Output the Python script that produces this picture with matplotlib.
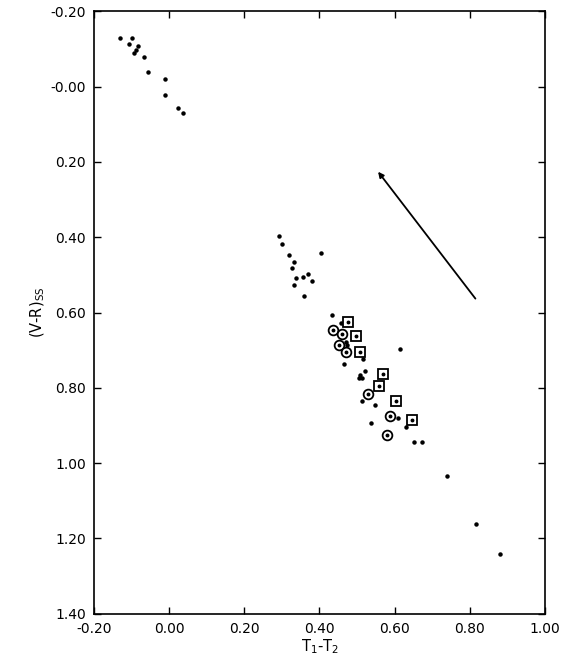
import matplotlib
matplotlib.use("Agg")
import matplotlib.pyplot as plt

# small dots
dot_x = [-0.132, -0.100, -0.108, -0.084, -0.088, -0.094, -0.066, -0.057, -0.010, -0.010, 0.023, 0.036,
         0.291, 0.300, 0.320, 0.405, 0.333, 0.326, 0.338, 0.357, 0.369, 0.380, 0.332, 0.358,
         0.432, 0.458, 0.613, 0.470, 0.472, 0.517, 0.464, 0.520, 0.504, 0.514, 0.509,
         0.512, 0.549, 0.610, 0.537, 0.629, 0.651, 0.673, 0.739, 0.817, 0.880]
dot_y = [-0.129, -0.129, -0.113, -0.109, -0.096, -0.089, -0.079, -0.039, -0.019, 0.021, 0.056, 0.070,
         0.398, 0.417, 0.447, 0.442, 0.466, 0.482, 0.508, 0.506, 0.497, 0.517, 0.527, 0.557,
         0.607, 0.627, 0.696, 0.678, 0.685, 0.724, 0.736, 0.755, 0.773, 0.773, 0.765,
         0.835, 0.845, 0.879, 0.892, 0.905, 0.945, 0.945, 1.033, 1.161, 1.242]

# circled points
circ_x = [0.436, 0.461, 0.452, 0.470, 0.529, 0.589, 0.581]
circ_y = [0.647, 0.658, 0.687, 0.706, 0.817, 0.874, 0.924]

# boxed points
sq_x = [0.476, 0.498, 0.507, 0.569, 0.558, 0.603, 0.646]
sq_y = [0.625, 0.662, 0.705, 0.763, 0.795, 0.836, 0.885]

# reddening arrow (tail -> head)
arrow_tail = (0.815, 0.563)
arrow_head = (0.556, 0.226)

xticks = [-0.2, 0.0, 0.2, 0.4, 0.6, 0.8, 1.0]
xlabels = ["-0.20", "0.00", "0.20", "0.40", "0.60", "0.80", "1.00"]
yticks = [-0.2, 0.0, 0.2, 0.4, 0.6, 0.8, 1.0, 1.2, 1.4]
ylabels = ["-0.20", "-0.00", "0.20", "0.40", "0.60", "0.80", "1.00", "1.20", "1.40"]

fig = plt.figure(figsize=(5.7, 6.65), dpi=100)
ax = fig.add_axes([0.165, 0.077, 0.791, 0.906])

ax.plot(dot_x, dot_y, "o", color="black", markersize=2.2, linestyle="none")
ax.plot(circ_x, circ_y, "o", markerfacecolor="white", markeredgecolor="black",
        markeredgewidth=1.3, markersize=7, linestyle="none")
ax.plot(circ_x, circ_y, "o", color="black", markersize=1.8, linestyle="none")
ax.plot(sq_x, sq_y, "s", markerfacecolor="white", markeredgecolor="black",
        markeredgewidth=1.3, markersize=7, linestyle="none")
ax.plot(sq_x, sq_y, "o", color="black", markersize=1.8, linestyle="none")

ax.annotate("", xy=arrow_head, xytext=arrow_tail,
            arrowprops=dict(arrowstyle="-|>", color="black", lw=1.3,
                            mutation_scale=8, shrinkA=0, shrinkB=0))

ax.set_xlim(-0.2, 1.0)
ax.set_ylim(1.4, -0.2)
ax.set_xticks(xticks)
ax.set_xticklabels(xlabels)
ax.set_yticks(yticks)
ax.set_yticklabels(ylabels)
ax.tick_params(direction="in", top=True, right=True, length=5, width=1,
               labelsize=10, pad=6)
for s in ax.spines.values():
    s.set_linewidth(1.2)

ax.set_xlabel(r"$\mathrm{T_1}$-$\mathrm{T_2}$", fontsize=10.5, labelpad=1)
ax.set_ylabel(r"(V-R)$_{\mathrm{SS}}$", fontsize=10.5, labelpad=2)

fig.savefig("out.png", dpi=100)
